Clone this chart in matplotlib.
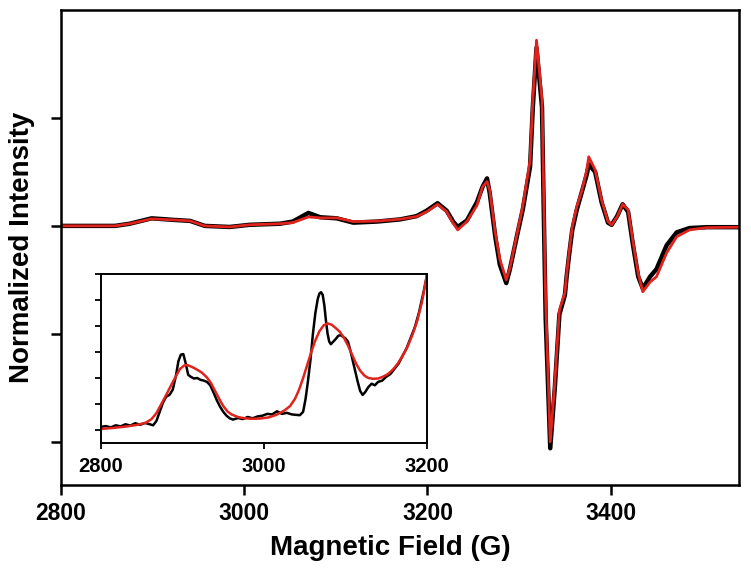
import numpy as np
import matplotlib
matplotlib.use("Agg")
import matplotlib.pyplot as plt

plt.rcParams['font.family'] = ['Liberation Sans', 'DejaVu Sans']
plt.rcParams['font.weight'] = 'bold'

# main spectrum (field in G, normalized intensity)
field = [2800, 2859, 2875, 2899, 2924, 2941, 2957, 2984, 3006, 3039, 3053, 3070, 3083,
         3101, 3119, 3145, 3170, 3188, 3199, 3211, 3221, 3228, 3233, 3243, 3254, 3260,
         3265, 3268, 3274, 3279, 3286, 3290, 3298, 3304, 3312, 3315, 3319, 3325, 3327,
         3329, 3334, 3339, 3344, 3350, 3352, 3355, 3358, 3363, 3368, 3374, 3376, 3383,
         3390, 3397, 3401, 3407, 3413, 3419, 3424, 3430, 3435, 3443, 3450, 3461, 3472,
         3486, 3505, 3541]
red = [0, 0, 0.02, 0.065, 0.055, 0.046, 0, -0.01, 0.01, 0.02, 0.03, 0.083, 0.074,
       0.074, 0.04, 0.044, 0.062, 0.086, 0.13, 0.20, 0.13, 0.025, -0.037, 0.04, 0.19, 0.36,
       0.41, 0.33, -0.065, -0.31, -0.50, -0.39, -0.065, 0.18, 0.61, 1.17, 1.72, 1.17, 0.24,
       -0.69, -2.0, -1.45, -0.78, -0.62, -0.44, -0.22, -0.01, 0.18, 0.31, 0.52, 0.64, 0.52,
       0.24, 0.04, 0.01, 0.083, 0.20, 0.15, -0.13, -0.44, -0.61, -0.52, -0.47, -0.25, -0.10,
       -0.037, -0.016, -0.012]
black = [0, 0, 0.02, 0.07, 0.055, 0.046, 0, -0.01, 0.01, 0.02, 0.04, 0.12, 0.08,
         0.07, 0.03, 0.04, 0.06, 0.09, 0.14, 0.21, 0.14, 0.04, -0.01, 0.05, 0.22, 0.36,
         0.44, 0.30, -0.10, -0.36, -0.53, -0.40, -0.08, 0.15, 0.55, 1.10, 1.65, 1.10, 0.10,
         -0.85, -2.06, -1.50, -0.82, -0.64, -0.46, -0.24, -0.04, 0.15, 0.30, 0.48, 0.57, 0.50,
         0.22, 0.03, 0.01, 0.09, 0.20, 0.13, -0.16, -0.47, -0.58, -0.47, -0.40, -0.18, -0.06,
         -0.02, -0.012, -0.012]

# inset (zoomed low-field region)
in_field_k = [2800, 2806, 2812, 2818, 2824, 2830, 2836, 2842, 2848, 2854, 2860, 2864, 2868,
              2872, 2876, 2880, 2884, 2888, 2892, 2895, 2898, 2901, 2904, 2907, 2910, 2914,
              2918, 2922, 2926, 2930, 2934, 2938, 2942, 2946, 2950, 2954, 2958, 2962, 2968,
              2974, 2980, 2986, 2992, 2998, 3004, 3010, 3016, 3022, 3028, 3034, 3040, 3044,
              3048, 3051, 3054, 3057, 3060, 3063, 3066, 3068, 3070, 3072, 3074, 3076, 3078,
              3080, 3082, 3085, 3088, 3091, 3094, 3097, 3100, 3103, 3106, 3109, 3112, 3115,
              3118, 3121, 3124, 3128, 3132, 3136, 3140, 3145, 3150, 3155, 3160, 3165, 3170,
              3175, 3180, 3185, 3190, 3195, 3200]
in_black = [0.12, 0.15, 0.10, 0.18, 0.14, 0.22, 0.17, 0.26, 0.20, 0.27, 0.22, 0.18, 0.35,
            0.70, 1.05, 1.28, 1.35, 1.55, 2.10, 2.65, 2.90, 2.92, 2.55, 2.12, 2.05, 1.98,
            2.00, 1.93, 1.90, 1.85, 1.72, 1.45, 1.15, 0.90, 0.70, 0.55, 0.45, 0.40, 0.46,
            0.42, 0.50, 0.45, 0.52, 0.55, 0.62, 0.60, 0.72, 0.62, 0.66, 0.60, 0.58, 0.57,
            0.70, 1.20, 1.90, 2.70, 3.70, 4.50, 5.05, 5.25, 5.30, 5.20, 4.80, 4.20, 3.70,
            3.40, 3.30, 3.40, 3.50, 3.62, 3.65, 3.58, 3.52, 3.40, 3.05, 2.65, 2.25, 1.85,
            1.50, 1.35, 1.45, 1.65, 1.78, 1.72, 1.85, 1.90, 2.05, 2.15, 2.35, 2.55, 2.85,
            3.15, 3.55, 3.95, 4.50, 5.20, 5.95]
in_field_r = [2800, 2815, 2830, 2845, 2855, 2862, 2868, 2874, 2880, 2886, 2892, 2897, 2902,
              2906, 2912, 2918, 2924, 2930, 2935, 2940, 2945, 2950, 2955, 2960, 2968, 2976,
              2985, 2995, 3005, 3015, 3025, 3032, 3038, 3043, 3048, 3053, 3058, 3063, 3068,
              3073, 3078, 3083, 3088, 3093, 3098, 3103, 3108, 3113, 3118, 3123, 3128, 3134,
              3140, 3146, 3152, 3158, 3164, 3170, 3176, 3182, 3188, 3194, 3200]
in_red = [0.04, 0.08, 0.13, 0.20, 0.28, 0.42, 0.65, 1.00, 1.35, 1.72, 2.08, 2.35, 2.48,
          2.50, 2.42, 2.32, 2.20, 2.02, 1.80, 1.50, 1.20, 0.92, 0.72, 0.60, 0.50, 0.45,
          0.43, 0.44, 0.48, 0.58, 0.75, 0.92, 1.20, 1.55, 2.00, 2.50, 3.00, 3.45, 3.80,
          4.02, 4.10, 4.05, 3.92, 3.78, 3.55, 3.25, 2.90, 2.55, 2.28, 2.10, 2.00, 1.97,
          1.98, 2.05, 2.15, 2.32, 2.55, 2.85, 3.20, 3.65, 4.20, 4.95, 6.00]

fig = plt.figure(figsize=(7.51, 5.76), dpi=100)
ax = fig.add_axes([0.0812, 0.158, 0.9028, 0.8247])
ax.plot(field, black, color='black', lw=3.2, solid_joinstyle='round')
ax.plot(field, red, color='#e0231c', lw=2.0, solid_joinstyle='round')
ax.set_xlim(2800, 3540)
ax.set_ylim(-2.4, 2.0)
ax.set_xticks([2800, 3000, 3200, 3400])
ax.set_yticks([-2, -1, 0, 1])
ax.set_yticklabels([])
ax.tick_params(direction='out', length=7, width=1.8, labelsize=16.5, pad=5)
for s in ax.spines.values():
    s.set_linewidth(1.8)
ax.set_xlabel('Magnetic Field (G)', fontsize=20, fontweight='bold', labelpad=9)
ax.xaxis.set_label_coords(0.486, -0.105)
ax.set_ylabel('Normalized Intensity', fontsize=20, fontweight='bold', labelpad=7)

ins = fig.add_axes([0.1345, 0.2309, 0.4341, 0.2934])
ins.plot(in_field_k, in_black, color='black', lw=1.8)
ins.plot(in_field_r, in_red, color='#e0231c', lw=1.8)
ins.set_xlim(2800, 3200)
ins.set_ylim(-0.5, 6.0)
ins.set_xticks([2800, 3000, 3200])
ins.set_yticks(range(0, 7))
ins.set_yticklabels([])
ins.tick_params(direction='out', length=4, width=1.3, labelsize=14.5, pad=6)
for s in ins.spines.values():
    s.set_linewidth(1.4)

fig.savefig('out.png', dpi=100)
